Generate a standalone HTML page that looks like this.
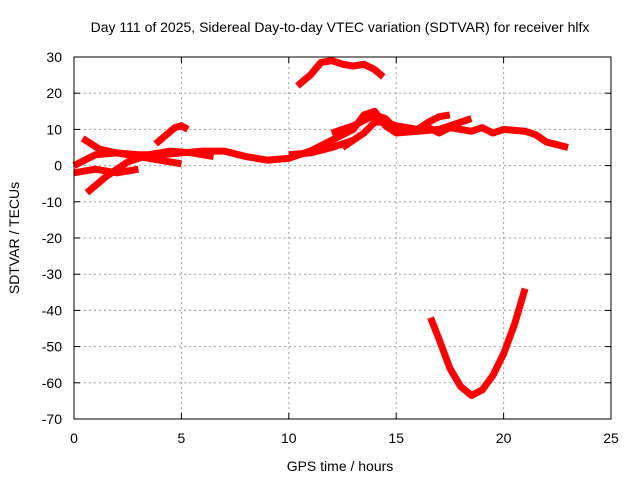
<!DOCTYPE html>
<html><head><meta charset="utf-8"><style>
body{margin:0;background:#fff}
svg text{font-family:"Liberation Sans",sans-serif;font-size:14px;fill:#000}
</style></head><body>
<svg id="c" width="640" height="480"></svg>
<script>
const xTicks=[0,5,10,15,20,25];
const yTicks=[30,20,10,0,-10,-20,-30,-40,-50,-60,-70];
const seriesTop=[[10.4,22],[11,25],[11.5,28.5],[12,29],[12.5,28],[13,27.5],[13.5,28],[14,26.5],[14.4,24.5]];
const seriesU=[[16.6,-42],[17,-48],[17.5,-56],[18,-61],[18.5,-63.5],[19,-62],[19.5,-58],[20,-52],[20.5,-44],[21,-34]];
const seriesMain=[[0,0],[1,3],[2,3.5],[3,3],[4,3],[5,3.5],[6,4],[7,4],[8,2.5],[9,1.5],[10,2],[11,4],[12,7],[13,10],[13.5,14],[14,15],[14.5,11],[15,9],[16,9.5],[16.5,10.5],[17,9],[17.5,10.5],[18,10],[18.5,9.5],[19,10.5],[19.5,9],[20,10],[21,9.5],[21.5,8.5],[22,6.5],[23,5]];
const seriesD=[[0.4,7.5],[1.2,4.5],[2,3.5],[3,2.5],[4,1.5],[5,0.5]];
const seriesE=[[0.6,-7.5],[1.5,-3],[2.5,1],[3.5,3],[4.5,4],[5.5,3.5],[6.5,2.5]];
const seriesF=[[3.8,6],[4.2,8],[4.7,10.5],[5,11],[5.3,10]];
const seriesG=[[0,-2],[1,-1],[2,-2],[3,-1]];
const seriesI=[[12.5,5],[13,7],[13.5,9],[14,12],[14.5,12],[15,11],[16,10],[16.5,12],[17,13.5],[17.5,14]];
const seriesJ=[[12,9],[13,11],[14,14],[14.5,13],[15,10],[16,9.5],[17,10],[18,12],[18.5,13]];
const seriesK=[[10,3],[11,3.5],[12,5],[13,7]];
const allSeries=[seriesTop,seriesU,seriesMain,seriesD,seriesE,seriesF,seriesG,seriesI,seriesJ,seriesK];
const L=74,R=611,T=57,B=419;
const X=h=>L+(h-0)/25*(R-L);
const Y=v=>T+(30-v)/100*(B-T);
const svg=document.getElementById('c');
const NS='http://www.w3.org/2000/svg';
function mk(t,a){const e=document.createElementNS(NS,t);for(const k in a)e.setAttribute(k,a[k]);svg.appendChild(e);return e;}
xTicks.forEach(t=>{
  if(t>0&&t<25){const g=mk('line',{x1:X(t),x2:X(t),y1:T,y2:B,stroke:'#a0a0a0','stroke-dasharray':'2,3'});
  
  }
  const tx=mk('text',{x:X(t),y:B+24,'text-anchor':'middle'});tx.textContent=t;
  
  
  mk('line',{x1:X(t),x2:X(t),y1:B,y2:B-6,stroke:'#000'});
  mk('line',{x1:X(t),x2:X(t),y1:T,y2:T+6,stroke:'#000'});
});
yTicks.forEach(t=>{
  if(t<30&&t>-70){const g=mk('line',{x1:L,x2:R,y1:Y(t),y2:Y(t),stroke:'#a0a0a0','stroke-dasharray':'2,3'});
  
  }
  const tx=mk('text',{x:L-12,y:Y(t)+5,'text-anchor':'end'});tx.textContent=t;
  
  
  mk('line',{x1:L,x2:L+6,y1:Y(t),y2:Y(t),stroke:'#000'});
  mk('line',{x1:R,x2:R-6,y1:Y(t),y2:Y(t),stroke:'#000'});
});
allSeries.forEach(s=>{
  const p=mk('polyline',{points:s.map(d=>X(d[0])+','+Y(d[1])).join(' '),fill:'none',stroke:'#f00','stroke-width':7,'stroke-linejoin':'round'});
  
  
});
const f=mk('rect',{x:L,y:T,width:R-L,height:B-T,fill:'none',stroke:'#000'});


const ti=mk('text',{x:340,y:32,'text-anchor':'middle'});ti.textContent='Day 111 of 2025, Sidereal Day-to-day VTEC variation (SDTVAR) for receiver hlfx';


const xl=mk('text',{x:340,y:471,'text-anchor':'middle'});xl.textContent='GPS time / hours';


const yl=mk('text',{x:19,y:238,'text-anchor':'middle',transform:'rotate(-90 19 238)'});yl.textContent='SDTVAR / TECUs';


</script>
</body></html>
